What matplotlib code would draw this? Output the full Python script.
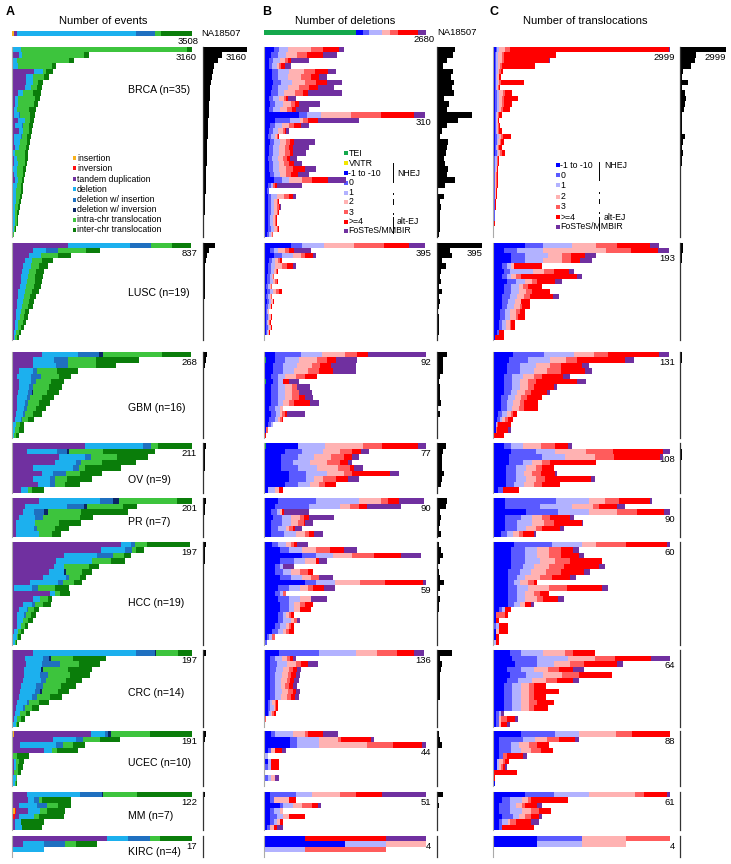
import numpy as np
import matplotlib
matplotlib.use("Agg")
import matplotlib.pyplot as plt

plt.rcParams['font.family'] = ['Liberation Sans', 'DejaVu Sans']

"""
DATOS
"""
groups = ['BRCA', 'LUSC', 'GBM', 'OV', 'PR', 'HCC', 'CRC', 'UCEC', 'MM', 'KIRC']
n_samples = [35, 19, 16, 9, 7, 19, 14, 10, 7, 4]

# etiquetas de maximo por grupo
a_max = [3160, 837, 268, 211, 201, 197, 197, 191, 122, 17]
b_max = [310, 395, 92, 77, 90, 59, 136, 44, 51, 4]
c_max = [2999, 193, 131, 108, 90, 60, 64, 88, 61, 4]

a_labels = ['insertion', 'inversion', 'tandem duplication', 'deletion', 'deletion w/ insertion',
            'deletion w/ inversion', 'intra-chr translocation', 'inter-chr translocation']
b_labels = ['TEI', 'VNTR', '-1 to -10', '0', '1', '2', '3', '>=4', 'FoSTeS/MMBIR']
c_labels = ['-1 to -10', '0', '1', '2', '3', '>=4', 'FoSTeS/MMBIR']

# NA18507
a_na = [40, 0, 60, 2318, 370, 0, 115, 605]
b_na = [1515, 0, 115, 115, 215, 130, 130, 330, 130]

# A: ins, inv, tdup, del, del/ins, del/inv, intra, inter
a_brca = [[0,0,0,160,0,0,2920,80], [0,0,125,55,0,0,1090,80], [0,0,20,60,0,0,920,90],
          [0,0,20,80,0,0,600,80], [0,0,390,150,0,0,60,120], [0,0,250,110,0,0,200,90],
          [0,0,250,120,0,0,90,85], [0,0,230,110,0,0,100,90], [0,0,100,90,0,0,175,145],
          [0,0,50,50,0,0,300,90], [0,0,60,40,0,0,280,80], [0,0,40,50,0,0,210,120],
          [0,0,40,80,20,0,180,85], [0,0,100,120,0,0,90,75], [0,0,60,110,30,0,100,70],
          [0,0,120,80,0,0,90,60], [0,0,30,120,30,0,90,65], [0,0,40,100,0,0,115,60],
          [0,0,60,60,0,0,120,60], [0,0,20,40,0,0,170,55], [0,0,30,50,0,0,150,50],
          [0,0,40,60,0,0,120,45], [0,0,20,70,0,0,110,45], [0,0,30,60,0,0,100,40],
          [0,0,60,40,0,0,70,40], [0,0,20,60,0,0,80,35], [0,0,20,50,0,0,85,35],
          [0,0,15,50,0,0,80,30], [0,0,15,50,0,0,65,30], [0,0,10,50,0,0,50,30],
          [0,0,10,40,0,0,45,30], [0,0,10,40,0,0,30,25], [0,0,10,40,0,0,30,20],
          [0,0,10,30,0,0,15,15], [0,0,5,20,0,0,5,5]]
a_lusc = [[0,0,260,288,100,0,98,88], [0,0,96,62,55,0,132,62], [0,0,80,55,0,0,77,62],
          [0,0,60,35,0,0,45,50], [0,0,50,40,0,0,35,42], [0,0,45,35,0,0,30,40],
          [0,0,40,35,0,0,30,38], [0,0,40,30,0,0,35,35], [0,0,35,30,0,0,35,35],
          [0,0,30,30,0,0,35,32], [0,0,30,25,0,0,30,27], [0,0,25,25,0,0,30,24],
          [0,0,25,20,0,0,30,21], [0,0,20,20,0,0,20,20], [0,0,20,15,0,0,20,18],
          [0,0,15,15,0,0,20,15], [0,0,15,12,0,0,15,15], [0,0,10,10,0,0,12,10],
          [0,0,8,8,0,0,8,7]]
a_gbm = [[0,0,45,53,31,7,87,43], [0,0,31,32,20,0,42,64], [0,0,31,35,17,0,42,30],
         [0,0,11,20,6,0,30,31], [0,0,8,20,15,0,27,18], [0,0,10,18,8,0,22,20],
         [0,0,10,16,6,0,23,20], [0,0,9,15,6,2,20,18], [0,0,8,14,5,0,18,18],
         [0,0,8,12,4,0,16,16], [0,0,8,10,4,0,14,14], [0,0,6,10,3,0,13,13],
         [0,0,5,8,2,0,9,9], [0,0,2,4,0,0,6,6], [0,0,1,4,0,0,6,7], [0,0,1,2,0,0,3,5]]
a_ov = [[0,0,85,68,10,0,8,40], [0,0,18,35,12,2,40,61], [0,0,55,30,8,0,30,37],
        [0,0,50,25,6,0,25,39], [0,0,25,47,7,0,7,42], [0,0,35,13,15,0,17,26],
        [0,0,25,20,5,0,15,29], [0,0,30,15,5,0,12,18], [0,0,11,8,0,0,4,15]]
a_pr = [[0,0,30,68,15,7,64,17], [0,0,14,47,19,4,40,16], [0,0,12,13,11,4,37,53],
        [0,0,8,18,9,0,41,14], [0,0,4,22,0,0,26,25], [0,0,5,20,3,0,20,16],
        [0,0,4,26,0,0,15,10]]
a_hcc = [[0,0,119,11,5,0,13,47], [0,0,97,27,7,0,5,8], [0,0,57,36,18,0,12,7],
         [0,0,48,40,0,0,20,16], [0,0,46,11,0,0,27,11], [0,0,41,16,0,2,18,11],
         [0,0,34,25,3,0,12,7], [0,0,20,30,6,0,12,9], [0,0,2,20,7,0,18,15],
         [0,0,42,5,0,0,6,11], [0,0,23,8,0,0,8,5], [0,0,12,10,3,0,9,9],
         [0,0,8,8,2,0,6,6], [0,0,6,7,2,0,6,5], [1,0,5,6,0,0,6,5], [0,1,4,5,0,0,4,3],
         [0,0,2,5,0,0,3,3], [0,0,0,5,0,0,2,3], [0,0,0,3,0,0,1,2]]
a_crc = [[0,0,23,113,20,2,24,15], [0,0,14,20,7,2,24,36], [0,0,15,18,20,0,20,23],
         [0,0,13,19,0,2,27,27], [0,1,12,18,8,0,24,22], [0,0,12,20,5,0,22,18],
         [0,0,10,16,8,0,20,16], [0,0,9,16,6,2,17,12], [0,0,8,14,5,0,15,13],
         [0,0,6,10,3,0,11,10], [0,0,4,8,2,0,8,8], [0,0,3,6,0,0,6,5],
         [0,0,2,4,0,0,4,4], [0,0,1,3,0,0,2,2]]
a_ucec = [[2,0,82,15,3,3,41,45], [0,0,44,24,7,0,18,22], [0,0,8,39,7,0,11,12],
          [0,0,34,8,0,0,6,22], [0,0,0,0,0,0,5,13], [0,0,2,2,0,0,3,6], [0,0,2,2,0,0,2,6],
          [0,0,2,0,0,0,4,4], [0,0,0,4,0,0,1,0], [0,0,1,2,0,0,1,1]]
a_mm = [[0,0,10,36,15,1,23,37], [0,0,11,4,3,0,2,20], [0,0,5,12,7,0,7,9],
        [2,1,8,8,0,0,5,12], [0,2,3,10,0,0,3,17], [0,0,2,4,0,0,0,16], [0,0,2,5,0,0,0,13]]
a_kirc = [[0,0,9,2,2,0,1,3], [0,0,1,2,2,0,1,2], [0,0,0,3,0,0,0,0], [0,0,0,0,0,0,0,0]]

# B: TEI, VNTR, -1..-10, 0, 1, 2, 3, >=4, FoSTeS
b_brca = [[0,0,19,10,16,45,22,32,10], [0,0,13,13,16,22,19,30,27], [0,0,10,8,12,10,6,6,34],
          [0,0,10,6,8,5,3,8,11], [0,0,15,12,20,30,20,25,15], [0,0,15,12,18,25,20,15,16],
          [0,0,18,15,20,25,22,20,30], [0,0,15,12,18,22,20,17,30], [0,0,13,13,13,20,15,10,66],
          [0,0,10,8,10,10,5,3,15], [0,0,12,10,14,15,8,8,41], [0,0,10,8,12,14,10,8,24],
          [0,0,67,16,26,57,57,64,21], [0,0,22,28,19,6,10,19,77], [0,0,12,10,12,14,10,12,16],
          [0,0,10,8,8,10,5,2,5], [0,0,8,5,8,4,2,2,0], [0,0,12,8,10,12,8,7,40],
          [0,0,10,8,10,12,8,8,30], [0,0,10,8,10,12,10,6,24], [0,0,8,8,10,10,8,6,13],
          [0,0,10,8,10,10,10,10,15], [0,0,10,8,10,15,12,24,20], [0,0,12,8,10,12,10,14,20],
          [0,0,20,15,12,25,20,30,35], [0,0,8,5,5,0,3,4,48], [0,0,5,5,0,0,0,0,0],
          [0,0,8,6,10,15,8,8,6], [0,0,8,6,6,4,2,2,1], [0,0,8,6,6,5,3,2,2],
          [0,0,8,6,6,4,2,2,1], [0,0,7,5,5,4,2,1,1], [0,0,7,5,5,4,2,1,1],
          [0,0,8,6,6,4,2,2,1], [0,0,5,4,4,3,1,1,0]]
b_lusc = [[0,0,65,28,53,73,73,61,39], [0,0,15,10,10,15,12,12,40], [0,0,25,20,25,20,10,20,8],
          [0,0,12,8,8,5,5,7,0], [0,0,10,8,10,15,12,15,7], [0,0,10,8,6,5,3,3,0],
          [0,0,8,6,5,3,2,1,0], [0,0,8,6,8,6,4,3,0], [0,0,6,4,4,3,2,1,0],
          [0,0,8,6,8,8,6,7,0], [0,0,6,4,4,3,2,1,0], [0,0,7,5,5,4,2,2,0],
          [0,0,6,4,4,3,1,1,0], [0,0,4,3,2,2,1,0,0], [0,0,5,4,4,3,2,1,0],
          [0,0,4,3,3,3,2,1,0], [0,0,5,4,4,3,2,2,0], [0,0,4,3,3,2,1,1,0], [0,0,1,0,0,0,0,0,0]]
b_gbm = [[0,0,6,15,12,13,7,6,33], [1,0,5,6,8,10,6,5,12], [0,0,5,6,8,8,5,6,14],
         [0,0,5,6,6,8,6,8,13], [0,0,4,4,4,6,5,7,0], [1,0,4,3,3,0,0,3,6],
         [0,0,4,4,4,4,3,0,7], [0,0,4,4,4,4,4,0,7], [0,0,4,4,4,4,4,3,5],
         [0,0,4,4,3,3,3,9,5], [0,0,3,3,3,2,0,0,0], [0,0,4,3,2,1,2,1,10],
         [0,0,3,3,2,1,1,1,0], [0,0,2,2,1,0,0,0,0], [0,0,1,0,0,0,1,0,0], [0,0,0,0,0,0,0,1,0]]
b_ov = [[1,0,15,0,13,18,9,17,5], [0,0,10,8,10,8,6,4,4], [0,0,8,8,8,8,6,4,3],
        [0,0,8,6,8,8,6,4,2], [0,0,8,8,9,10,6,2,4], [0,0,12,8,10,8,4,18,4],
        [0,0,12,8,4,4,6,6,5], [0,0,10,6,6,4,3,5,0], [0,0,2,0,3,2,0,2,0]]
b_pr = [[0,0,8,21,24,12,4,6,14], [0,0,6,19,17,6,5,4,19], [0,0,4,3,2,1,0,1,14],
        [0,0,5,5,5,5,2,3,14], [0,0,4,6,5,4,3,1,4], [0,0,4,4,4,2,2,1,4], [0,0,4,7,7,5,2,3,5]]
b_hcc = [[0,0,3,2,3,2,1,1,4], [0,0,6,3,5,5,5,5,5], [0,0,14,5,6,7,8,10,7],
         [0,0,6,5,4,4,0,1,3], [0,0,4,2,1,0,0,0,4], [0,0,4,3,3,3,3,2,0],
         [0,0,6,4,4,3,3,0,5], [0,0,15,4,7,9,9,14,1], [0,0,5,4,4,3,2,4,4],
         [0,0,4,2,1,0,1,0,0], [0,0,5,4,4,4,0,0,6], [0,0,6,3,2,2,2,3,0],
         [0,0,6,3,2,2,0,4,0], [0,0,5,2,1,1,1,1,0], [0,0,5,2,3,1,1,0,1],
         [0,0,4,2,2,1,1,1,0], [0,0,3,2,2,1,1,2,0], [0,0,1,1,1,0,1,0,0], [0,0,0,1,0,0,0,0,0]]
b_crc = [[0,0,13,33,31,18,17,14,8], [0,0,5,4,6,4,3,2,3], [0,0,5,6,8,8,4,6,8],
         [0,0,5,5,6,5,3,4,3], [0,0,5,4,6,5,3,4,3], [0,0,5,4,5,5,3,3,4],
         [0,0,5,4,5,4,3,3,4], [0,0,5,4,6,5,4,3,3], [0,0,5,4,5,5,4,3,3],
         [0,0,3,2,2,2,1,2,0], [0,0,3,2,3,1,1,2,0], [0,0,3,1,2,1,1,2,0],
         [0,0,1,0,0,0,1,0,0], [0,0,0,0,1,0,0,0,0]]
b_ucec = [[0,0,2,1,5,3,1,4,4], [0,0,7,2,6,5,1,8,1], [0,0,7,2,6,13,7,8,1],
          [0,0,1,1,0,1,0,2,1], [0,0,0,0,1,0,0,0,0], [0,0,1,0,1,0,0,2,0],
          [0,0,0,1,1,0,0,2,0], [0,0,0,0,0,0,0,0,0], [0,0,0,1,1,1,0,0,1], [0,0,0,0,0,0,0,0,0]]
b_mm = [[0,0,2,8,5,9,5,8,14], [0,0,2,1,0,5,0,2,0], [0,0,5,1,3,3,3,2,1],
        [0,0,2,1,2,1,0,0,0], [0,0,2,2,2,2,0,5,0], [0,0,2,1,1,1,0,1,0], [0,0,1,1,0,1,0,1,2]]
b_kirc = [[0,0,1,0,0,0,0,2,1], [0,0,2,0,1,1,0,0,0], [0,0,0,0,1,0,2,0,0], [0,0,0,0,0,0,0,0,0]]

# C: -1..-10, 0, 1, 2, 3, >=4, FoSTeS
c_brca = [[50,20,40,100,80,2700,9], [30,20,40,60,40,870,10], [30,20,40,60,40,765,10],
          [30,20,30,40,30,555,10], [30,20,30,30,20,40,0], [30,20,25,20,15,25,0],
          [30,20,30,30,20,400,0], [30,20,20,20,10,20,0], [40,30,40,60,40,110,0],
          [40,30,40,40,40,230,0], [40,30,40,40,30,140,0], [40,30,30,40,30,120,0],
          [30,20,20,20,20,40,0], [30,20,20,10,10,10,0], [30,20,20,20,10,20,0],
          [30,20,20,20,20,40,0], [40,30,30,40,35,130,0], [30,30,30,30,20,40,0],
          [30,20,20,20,20,40,0], [30,30,30,30,30,60,0], [20,20,20,10,10,20,0],
          [20,20,20,10,10,20,0], [20,10,20,10,10,20,0], [20,10,10,10,10,20,0],
          [20,10,10,10,10,20,0], [20,10,10,10,10,20,0], [20,10,10,10,0,20,0],
          [20,10,10,10,0,10,0], [20,10,10,0,0,10,0], [20,10,10,0,0,10,0],
          [20,10,0,0,0,10,0], [20,10,0,0,0,0,0], [20,0,0,0,0,10,0], [20,0,0,0,0,0,0],
          [10,0,0,0,0,0,0]]
c_lusc = [[35,19,32,26,23,36,10], [12,14,29,68,27,30,12], [20,15,25,15,10,15,12],
          [20,15,20,20,10,10,13], [10,5,5,3,0,30,0], [12,7,25,12,10,17,5],
          [10,5,5,5,5,62,5], [15,10,10,8,5,20,7], [12,8,8,5,5,15,0], [12,8,8,8,6,20,0],
          [10,8,8,8,6,25,7], [10,6,8,6,0,10,0], [10,5,8,6,3,8,0], [8,5,6,6,4,6,0],
          [8,5,6,6,2,8,0], [6,4,4,4,2,4,0], [6,4,4,4,2,4,0], [4,2,0,0,0,6,0], [2,0,0,0,0,10,0]]
c_gbm = [[15,23,22,15,10,38,7], [12,14,16,12,8,36,6], [10,10,12,10,8,16,5],
         [10,10,10,10,10,18,5], [8,6,8,8,6,16,5], [8,6,6,6,6,30,7], [8,6,6,6,4,15,2],
         [8,5,5,6,4,12,2], [6,5,5,5,4,11,0], [6,4,5,5,3,10,0], [6,4,4,5,4,10,0],
         [4,3,3,3,2,3,0], [3,2,2,2,2,4,0], [2,0,1,0,1,9,0], [2,0,0,0,1,8,2], [0,0,0,0,1,7,0]]
c_ov = [[7,4,7,11,9,8,2], [11,15,12,19,16,31,4], [10,20,14,18,12,28,2],
        [10,8,6,6,5,28,0], [8,6,6,6,4,7,0], [8,6,5,5,5,9,1], [8,6,6,6,6,28,2],
        [8,5,6,6,5,11,0], [3,3,0,0,0,10,0]]
c_pr = [[6,26,17,8,7,16,1], [6,18,16,11,3,9,4], [17,16,16,14,10,14,3], [6,8,6,5,4,10,2],
        [6,6,8,6,5,14,1], [6,6,5,5,3,9,2], [4,3,3,3,2,6,1]]
c_hcc = [[7,13,10,5,10,14,1], [6,5,4,4,4,4,2], [6,5,4,4,4,6,2], [6,5,5,5,5,11,0],
         [6,4,4,5,5,12,2], [5,4,4,5,5,8,2], [5,3,3,5,4,6,2], [5,2,2,3,2,1,0],
         [5,3,4,7,6,12,2], [5,3,3,3,2,3,0], [5,3,3,4,2,5,2], [5,2,2,2,0,2,1],
         [2,1,1,0,0,2,0], [1,0,0,0,3,1,0], [1,0,0,0,0,1,0], [0,1,1,0,0,3,0],
         [1,0,0,1,0,3,0], [1,0,0,0,0,1,0], [0,0,1,0,0,1,0]]
c_crc = [[6,4,8,8,3,8,0], [7,9,11,10,7,13,7], [8,8,6,6,5,12,2], [5,5,5,5,4,5,4],
         [6,6,6,7,6,12,0], [5,4,5,5,4,6,2], [4,3,3,3,2,4,0], [4,3,3,3,2,9,0],
         [4,3,3,3,2,4,0], [4,3,3,3,3,6,0], [4,3,3,3,2,5,0], [1,1,1,0,0,0,1],
         [1,1,0,1,2,3,1], [1,1,0,1,0,2,1]]
c_ucec = [[14,17,12,18,8,19,0], [3,12,6,6,6,8,2], [3,6,4,5,4,6,0], [3,6,5,5,5,6,0],
          [3,2,0,0,2,8,2], [2,0,1,2,1,2,0], [2,0,1,1,1,1,1], [0,0,0,0,0,12,0],
          [0,0,0,0,0,1,0], [1,0,0,0,0,0,0]]
c_mm = [[11,10,12,16,3,8,1], [3,3,4,2,1,13,0], [2,4,2,2,1,4,2], [2,4,4,3,3,4,0],
        [3,4,2,2,2,3,1], [2,1,2,1,2,5,3], [2,1,0,0,0,11,0]]
c_kirc = [[1,1,0,1,1,0,0], [1,0,1,1,0,0,0], [0,0,0,0,0,0,0], [0,0,0,0,0,0,0]]

a_data = [a_brca, a_lusc, a_gbm, a_ov, a_pr, a_hcc, a_crc, a_ucec, a_mm, a_kirc]
b_data = [b_brca, b_lusc, b_gbm, b_ov, b_pr, b_hcc, b_crc, b_ucec, b_mm, b_kirc]
c_data = [c_brca, c_lusc, c_gbm, c_ov, c_pr, c_hcc, c_crc, c_ucec, c_mm, c_kirc]

"""
ESTILO Y POSICIONES (pixeles)
"""
a_colors = ['#f8b11c', '#ff1010', '#7030a0', '#1cb0ee', '#1f70c0', '#0b2566', '#3dc43d', '#0a7d0a']
b_colors = ['#14a84c', '#f2e600', '#0000ff', '#5a5aff', '#b2b2ff', '#ffb2b2', '#ff5c5c', '#ff0000', '#7030a0']
c_colors = b_colors[2:]

W, H = 731, 864
tops = [47, 243, 352, 443, 498, 542, 650, 731, 792, 836]
bots = [237, 340, 438, 493, 537, 645, 727, 786, 830, 857]
name_y = [90, 293, 408, 480, 522, 603, 693, 763, 816, 852]

fig = plt.figure(figsize=(W / 100, H / 100), dpi=100)


def px_ax(x, y, w, h):
    ax = fig.add_axes([x / W, 1 - (y + h) / H, w / W, h / H])
    for s in ax.spines.values():
        s.set_visible(False)
    ax.set_xticks([])
    ax.set_yticks([])
    ax.patch.set_visible(False)
    return ax


def apilado(ax, rows, colors, xmax):
    rows = np.array(rows, dtype=float).reshape(-1, len(colors))
    n = len(rows)
    left = np.zeros(n)
    y = np.arange(n) + 0.5
    for j, c in enumerate(colors):
        ax.barh(y, rows[:, j], left=left, height=1.0, color=c, linewidth=0)
        left += rows[:, j]
    ax.set_xlim(0, xmax)
    ax.set_ylim(n, 0)
    return left


ov = fig.add_axes([0, 0, 1, 1])
ov.set_xlim(0, W)
ov.set_ylim(H, 0)
ov.axis('off')

paneles = [
    (a_data, a_max, a_colors, 12, 180, 203, 44, 3160),
    (b_data, b_max, b_colors, 264, 162, 437, 45, 395),
    (c_data, c_max, c_colors, 493, 177, 680, 46, 2999),
]

for data, maxes, colors, x0, wd, bx0, bw, bmax in paneles:
    for g in range(len(groups)):
        top, bot = tops[g], bots[g]
        n = n_samples[g]
        ax = px_ax(x0, top, wd, bot - top)
        ax.spines['left'].set_visible(True)
        ax.spines['left'].set_color('#aaaaaa')
        ax.spines['left'].set_linewidth(0.8)
        tot = apilado(ax, data[g], colors, maxes[g])

        bx = px_ax(bx0, top, bw, bot - top)
        bx.barh(np.arange(n) + 0.5, tot, height=1.0, color='black', linewidth=0)
        bx.set_xlim(0, bmax)
        bx.set_ylim(n, 0)
        bx.spines['left'].set_visible(True)
        bx.spines['left'].set_color('#333333')
        bx.spines['left'].set_linewidth(0.9)

        k = int(np.argmax(tot))
        ly = top + (k + 1) * (bot - top) / n + 5
        ov.text(x0 + wd + 5, ly, str(maxes[g]), ha='right', va='center', fontsize=6.8)
        if maxes[g] == bmax:
            ov.text(bx0 + bw, ly, str(maxes[g]), ha='right', va='center', fontsize=6.8)

# nombres de grupo
for g in range(len(groups)):
    ov.text(128, name_y[g], '%s (n=%d)' % (groups[g], n_samples[g]), ha='left', va='center', fontsize=7.6)

# NA18507
ax = px_ax(12, 31, 180, 5)
apilado(ax, [a_na], a_colors, 3508)
ov.text(201, 33.5, 'NA18507', ha='left', va='center', fontsize=6.8)
ov.text(199, 42, '3508', ha='right', va='center', fontsize=6.8)
ax = px_ax(264, 30, 162, 5)
apilado(ax, [b_na], b_colors, 2680)
ov.text(437, 32.5, 'NA18507', ha='left', va='center', fontsize=6.8)
ov.text(435, 40, '2680', ha='right', va='center', fontsize=6.8)

# titulos
ov.text(6, 12, 'A', fontsize=9, fontweight='bold', va='center')
ov.text(262, 12, 'B', fontsize=9, fontweight='bold', va='center')
ov.text(489, 12, 'C', fontsize=9, fontweight='bold', va='center')
ov.text(103, 21, 'Number of events', ha='center', va='center', fontsize=8)
ov.text(345, 21, 'Number of deletions', ha='center', va='center', fontsize=8)
ov.text(585, 21, 'Number of translocations', ha='center', va='center', fontsize=8)


def leyenda(x, ys, labels, colors):
    for y, lab, c in zip(ys, labels, colors):
        ov.add_patch(plt.Rectangle((x, y - 2), 3.6, 4, color=c, lw=0))
        ov.text(x + 4.5, y, lab, ha='left', va='center', fontsize=6.3)


def linea_ej(x, segs):
    for y1, y2 in segs:
        ov.plot([x, x], [y1, y2], color='black', lw=0.7)


leyenda(72.5, [158.3, 168.3, 179, 189.3, 200, 210, 220, 230], a_labels, a_colors)

leyenda(344, [153.3, 163.3, 173.3, 182.7, 192.7, 201.7, 212.3, 221.7, 230.7], b_labels, b_colors)
linea_ej(392.7, [(163, 182), (192.5, 193.5), (199, 204), (212.5, 213.5), (217, 233)])
ov.text(397, 173, 'NHEJ', ha='left', va='center', fontsize=6.3)
ov.text(397, 222, 'alt-EJ', ha='left', va='center', fontsize=6.3)

leyenda(556, [165, 175, 185, 196.7, 206.7, 217.3, 226.7], c_labels, c_colors)
linea_ej(599.3, [(161.7, 180), (191.5, 192.5), (199, 203), (211.5, 212.5), (216.7, 230)])
ov.text(604, 165, 'NHEJ', ha='left', va='center', fontsize=6.3)
ov.text(604, 217, 'alt-EJ', ha='left', va='center', fontsize=6.3)

plt.savefig('out.png', dpi=100)
